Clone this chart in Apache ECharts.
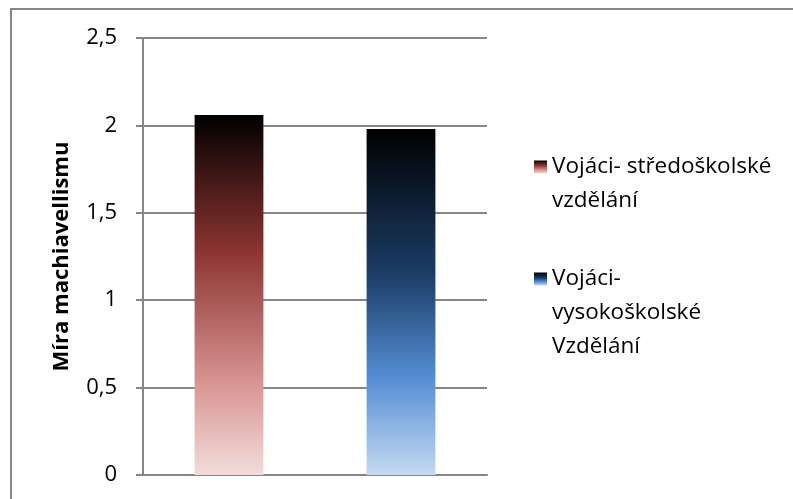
<!DOCTYPE html>
<html lang="cs">
<head>
<meta charset="utf-8">
<title>Míra machiavellismu</title>
<script src="https://cdn.jsdelivr.net/npm/echarts@6/dist/echarts.min.js"></script>
<style>
  html, body { margin: 0; padding: 0; background: #fff; }
  #container { width: 793px; height: 499px; }
</style>
</head>
<body>
<div id="container"></div>
<script>
    // data
    var categories = ['sš', 'vš'];
    var seriesNames = ['Vojáci- středoškolské\nvzdělání', 'Vojáci-\nvysokoškolské\nVzdělání'];
    var stredoskolske = [2.06, '-'];
    var vysokoskolske = ['-', 1.98];
    var yTicks = [0, 0.5, 1, 1.5, 2, 2.5];

    var font = '"Open Sans", "Noto Sans", sans-serif';

    var redFill = new echarts.graphic.LinearGradient(0, 0, 0, 1, [
        {offset: 0, color: '#000000'},
        {offset: 0.38, color: '#8c3431'},
        {offset: 0.75, color: '#d99694'},
        {offset: 1, color: '#f2dcdb'}
    ]);
    var blueFill = new echarts.graphic.LinearGradient(0, 0, 0, 1, [
        {offset: 0, color: '#000000'},
        {offset: 0.42, color: '#1c3d66'},
        {offset: 0.72, color: '#558ed5'},
        {offset: 1, color: '#c6d9f1'}
    ]);

    // marker sits next to the first line of the wrapped name:
    // pad the text with empty lines on top so line 1 is the middle one
    function legendFor(name, top) {
        var extra = name.split('\n').length - 1;
        return {
            orient: 'vertical',
            left: 534,
            top: top,
            padding: 0,
            itemWidth: 13,
            itemHeight: 13,
            icon: 'rect',
            data: [name],
            formatter: function (n) { return new Array(extra + 1).join('\n') + n; },
            textStyle: {fontSize: 22.5, color: '#000', lineHeight: 34, fontFamily: font}
        };
    }

    var myChart = echarts.init(document.getElementById('container'));
    var option = {
        animation: false,
        textStyle: {fontFamily: font},
        grid: {left: 143, right: 306, top: 38, bottom: 24, containLabel: false},
        legend: [
            legendFor(seriesNames[0], 116),
            legendFor(seriesNames[1], 194)
        ],
        xAxis: {
            type: 'category',
            data: categories,
            axisLine: {lineStyle: {color: '#868686', width: 2}},
            axisTick: {show: false},
            axisLabel: {show: false}
        },
        yAxis: {
            type: 'value',
            min: yTicks[0],
            max: yTicks[yTicks.length - 1],
            interval: 0.5,
            name: 'Míra machiavellismu',
            nameLocation: 'middle',
            nameGap: 70,
            nameTextStyle: {fontSize: 22, fontWeight: 'bold', color: '#000', fontFamily: font},
            axisLine: {show: true, lineStyle: {color: '#868686', width: 2}},
            axisTick: {show: true, length: 7, lineStyle: {color: '#868686', width: 2}},
            axisLabel: {
                fontSize: 22, color: '#000', margin: 26, fontFamily: font,
                formatter: function (v) { return String(v).replace('.', ','); }
            },
            splitLine: {lineStyle: {color: '#868686', width: 2}}
        },
        series: [
            {
                name: seriesNames[0],
                type: 'bar',
                barWidth: '40%',
                barGap: '-100%',
                itemStyle: {color: redFill},
                data: stredoskolske
            },
            {
                name: seriesNames[1],
                type: 'bar',
                barWidth: '40%',
                barGap: '-100%',
                itemStyle: {color: blueFill},
                data: vysokoskolske
            }
        ],
        graphic: [
            {type: 'line', shape: {x1: 11, y1: 9, x2: 793, y2: 9}, style: {stroke: '#868686', lineWidth: 2}},
            {type: 'line', shape: {x1: 11, y1: 8, x2: 11, y2: 499}, style: {stroke: '#868686', lineWidth: 2}}
        ]
    };
    myChart.setOption(option);
</script>
</body>
</html>
